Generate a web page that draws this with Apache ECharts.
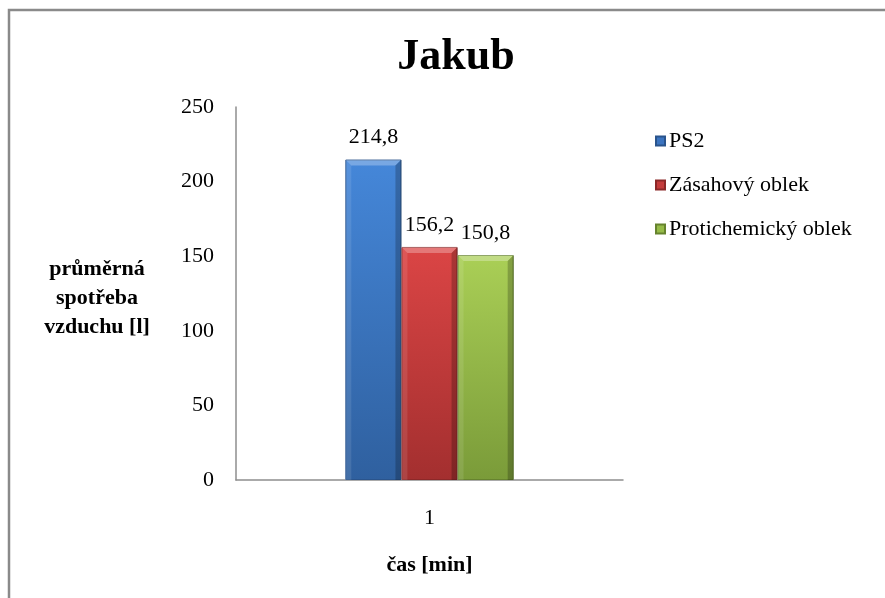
<!DOCTYPE html>
<html>
<head>
<meta charset="utf-8">
<script src="https://cdn.jsdelivr.net/npm/echarts@6/dist/echarts.min.js"></script>
<style>
  html, body { margin: 0; padding: 0; background: #fff; }
  #chart { width: 885px; height: 598px; }
</style>
</head>
<body>
<div id="chart"></div>
<script>
// Average air consumption per protective suit
const categories = ['1'];
const seriesNames = ['PS2', 'Zásahový oblek', 'Protichemický oblek'];
const ps2 = [214.8];
const zasahovy = [156.2];
const protichemicky = [150.8];
const yTicks = { min: 0, max: 250, interval: 50 };
const yNameLines = ['průměrná', 'spotřeba', 'vzduchu [l]'];

const SERIF = '"Liberation Serif", "Times New Roman", serif';
const CATEGORY_GAP = 0.565;

function grad(top, bottom) {
  return new echarts.graphic.LinearGradient(0, 0, 0, 1, [
    { offset: 0, color: top },
    { offset: 1, color: bottom }
  ]);
}

const palette = [
  { top: '#4587d9', bottom: '#2f609f', border: '#2a548c', legend: '#3b74c0' },
  { top: '#db4545', bottom: '#a32f2f', border: '#8c2828', legend: '#c43c3c' },
  { top: '#aacf56', bottom: '#7a9b39', border: '#66832e', legend: '#96bb48' }
];

const values = [ps2, zasahovy, protichemicky];

// bevel overlay items: [category index, value, series index]
const bevelData = [];
values.forEach((arr, i) => arr.forEach((v, j) => bevelData.push([j, v, i])));

function renderBevel(params, api) {
  const j = api.value(0), v = api.value(1), i = api.value(2);
  const n = values.length;
  const band = api.size([1, 0])[0];
  const total = band * (1 - CATEGORY_GAP);
  const w = total / n;
  const center = api.coord([j, 0]);
  const topPt = api.coord([j, v]);
  const x0 = center[0] - total / 2 + i * w;
  const x1 = x0 + w;
  const y0 = topPt[1];
  const y1 = center[1];
  const b = 6;
  return {
    type: 'group',
    children: [
      { type: 'polygon', shape: { points: [[x0, y0], [x1, y0], [x1 - b, y0 + b], [x0 + b, y0 + b]] },
        style: { fill: 'rgba(255,255,255,0.28)' } },
      { type: 'polygon', shape: { points: [[x0, y0], [x0 + b, y0 + b], [x0 + b, y1], [x0, y1]] },
        style: { fill: 'rgba(255,255,255,0.10)' } },
      { type: 'polygon', shape: { points: [[x1, y0], [x1 - b, y0 + b], [x1 - b, y1], [x1, y1]] },
        style: { fill: 'rgba(0,0,0,0.22)' } }
    ]
  };
}

const chart = echarts.init(document.getElementById('chart'));
chart.setOption({
  backgroundColor: '#fff',
  animation: false,
  title: {
    text: 'Jakub',
    left: 451,
    top: 31,
    textAlign: 'center',
    textStyle: { fontFamily: SERIF, fontWeight: 'bold', fontSize: 44, color: '#000' }
  },
  legend: {
    orient: 'vertical',
    left: 650,
    top: 125,
    itemWidth: 9,
    itemHeight: 9,
    itemGap: 22,
    icon: 'rect',
    textStyle: { fontFamily: SERIF, fontSize: 22, color: '#000', padding: [0, 0, 0, -1] },
    data: seriesNames.map((n, i) => ({ name: n, itemStyle: { color: palette[i].legend } }))
  },
  grid: { left: 236, right: 262, top: 107, bottom: 118 },
  xAxis: {
    type: 'category',
    data: categories,
    name: 'čas [min]',
    nameLocation: 'middle',
    nameGap: 74,
    nameTextStyle: { fontFamily: SERIF, fontWeight: 'bold', fontSize: 22, color: '#000' },
    axisLine: { lineStyle: { color: '#8e8e8e', width: 1.5 } },
    axisTick: { show: false },
    axisLabel: { fontFamily: SERIF, fontSize: 22, color: '#000', margin: 27 }
  },
  yAxis: {
    type: 'value',
    min: yTicks.min,
    max: yTicks.max,
    interval: yTicks.interval,
    // a short spacer line on top nudges the centred block slightly downward
    name: ['{s| }'].concat(yNameLines.map(t => '{a|' + t + '}')).join('\n'),
    nameLocation: 'middle',
    nameRotate: 0,
    nameGap: 139,
    nameTextStyle: {
      align: 'center', verticalAlign: 'middle',
      rich: {
        a: { fontFamily: SERIF, fontWeight: 'bold', fontSize: 22, color: '#000', lineHeight: 29, align: 'center' },
        s: { fontSize: 8, lineHeight: 10 }
      }
    },
    splitLine: { show: false },
    axisLine: { show: true, lineStyle: { color: '#8e8e8e', width: 1.5 } },
    axisTick: { show: false },
    axisLabel: { fontFamily: SERIF, fontSize: 22, color: '#000', margin: 22 }
  },
  series: seriesNames.map((name, i) => ({
    name,
    type: 'bar',
    data: values[i],
    barGap: '0%',
    barCategoryGap: (CATEGORY_GAP * 100) + '%',
    itemStyle: {
      color: grad(palette[i].top, palette[i].bottom),
      borderColor: palette[i].border,
      borderWidth: 1
    },
    label: {
      show: true,
      position: 'top',
      distance: 11,
      fontFamily: SERIF,
      fontSize: 22,
      color: '#000',
      formatter: p => String(p.value).replace('.', ',')
    }
  })).concat([{
    type: 'custom',
    name: 'bevel',
    renderItem: renderBevel,
    data: bevelData,
    encode: { x: 0, y: 1 },
    z: 3,
    silent: true,
    tooltip: { show: false }
  }]),
  graphic: [{
    type: 'rect',
    shape: { x: 9, y: 10, width: 1000, height: 1000 },
    style: { fill: 'none', stroke: '#8a8a8a', lineWidth: 2.5 },
    silent: true
  }]
});
</script>
</body>
</html>
